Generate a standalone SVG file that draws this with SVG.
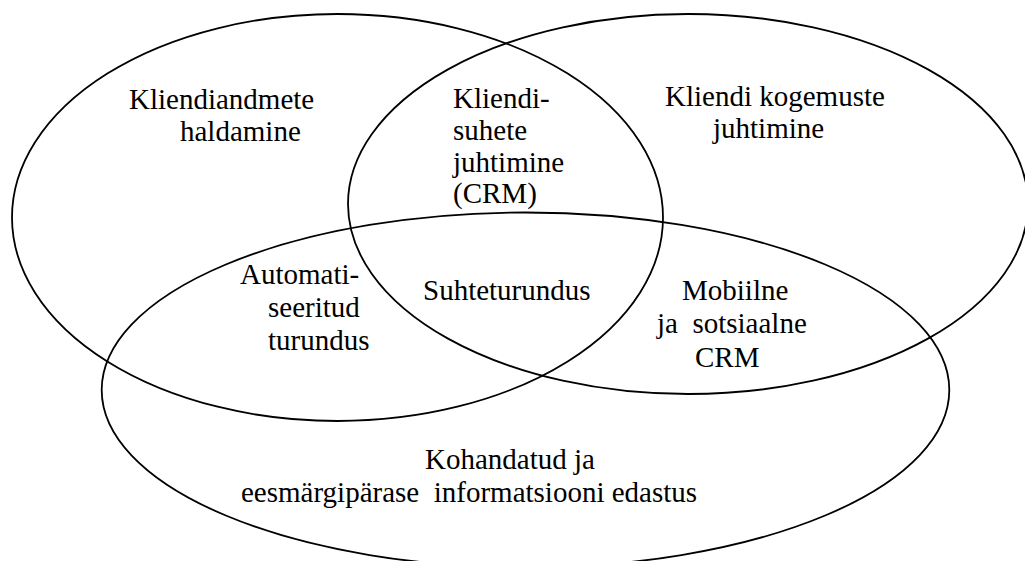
<svg xmlns="http://www.w3.org/2000/svg" width="1025" height="561" viewBox="0 0 1025 561">
<rect width="1025" height="561" fill="#fff"/>
<g id="circles" fill="none" stroke="#000" stroke-width="1.8">
<ellipse id="left-set" cx="337.5" cy="217.5" rx="325.5" ry="203.5"/>
<ellipse id="right-set" cx="688" cy="204" rx="340" ry="190"/>
<ellipse id="bottom-set" cx="525.5" cy="390" rx="423.8" ry="177.5"/>
</g>
<text id="t1" x="129" y="109" font-family="Liberation Serif" font-size="29">Kliendiandmete</text>
<text id="t2" x="180" y="141" font-family="Liberation Serif" font-size="29">haldamine</text>
<text id="t3" x="453" y="108" font-family="Liberation Serif" font-size="29">Kliendi-</text>
<text id="t4" x="453" y="140" font-family="Liberation Serif" font-size="29">suhete</text>
<text id="t5" x="453" y="172" font-family="Liberation Serif" font-size="29">juhtimine</text>
<text id="t6" x="453" y="203" font-family="Liberation Serif" font-size="29">(CRM)</text>
<text id="t7" x="665" y="106" font-family="Liberation Serif" font-size="29">Kliendi kogemuste</text>
<text id="t8" x="713" y="138" font-family="Liberation Serif" font-size="29">juhtimine</text>
<text id="t9" x="240" y="284" font-family="Liberation Serif" font-size="29">Automati-</text>
<text id="t10" x="268" y="317" font-family="Liberation Serif" font-size="29">seeritud</text>
<text id="t11" x="268" y="350" font-family="Liberation Serif" font-size="29">turundus</text>
<text id="t12" x="423" y="300" font-family="Liberation Serif" font-size="29">Suhteturundus</text>
<text id="t13" x="682" y="300" font-family="Liberation Serif" font-size="29">Mobiilne</text>
<text id="t14" x="657" y="333" font-family="Liberation Serif" font-size="29">ja&#160; sotsiaalne</text>
<text id="t15" x="695" y="367" font-family="Liberation Serif" font-size="29">CRM</text>
<text id="t16" x="425" y="469" font-family="Liberation Serif" font-size="29">Kohandatud ja</text>
<text id="t17" x="241" y="502" font-family="Liberation Serif" font-size="29">eesmärgipärase&#160; informatsiooni edastus</text>
</svg>
